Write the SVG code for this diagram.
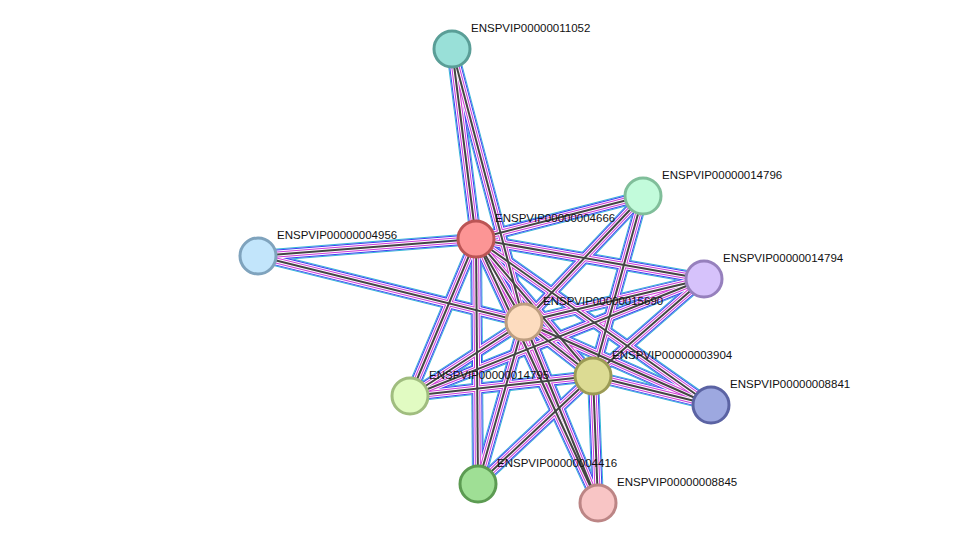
<svg xmlns="http://www.w3.org/2000/svg" xmlns:xlink="http://www.w3.org/1999/xlink" width="975" height="549" viewBox="0 0 975 549">
<style>
.e{fill:none}
.l1{stroke:#3f3ff0;stroke-width:10}
.l2{stroke:#fff;stroke-width:8}
.l3{stroke:#d03cd8;stroke-width:6}
.l4{stroke:#fff;stroke-width:4}
.l5{stroke:#444;stroke-width:2}
.l0{stroke:#35b8d8;stroke-width:12}
.n{stroke-width:3}
text{font-family:"Liberation Sans",Arial,sans-serif;font-size:11.5px;fill:#111}
</style>
<defs>
<path id="a1" d="M476,239L452,49"/>
<path id="a2" d="M476,239L643,196"/>
<path id="a3" d="M476,239L258,256"/>
<path id="a4" d="M476,239L704,279"/>
<path id="a5" d="M476,239L524,322"/>
<path id="a6" d="M476,239L593,376"/>
<path id="a7" d="M476,239L410,396"/>
<path id="a8" d="M476,239L711,405"/>
<path id="a9" d="M476,239L478,484"/>
<path id="a10" d="M476,239L598,503"/>
<path id="b1" d="M524,322L452,49"/>
<path id="b2" d="M524,322L643,196"/>
<path id="b3" d="M524,322L258,256"/>
<path id="b4" d="M524,322L704,279"/>
<path id="b5" d="M524,322L593,376"/>
<path id="b6" d="M524,322L410,396"/>
<path id="b7" d="M524,322L711,405"/>
<path id="b8" d="M524,322L478,484"/>
<path id="b9" d="M524,322L598,503"/>
<path id="c1" d="M593,376L643,196"/>
<path id="c2" d="M593,376L704,279"/>
<path id="c3" d="M593,376L410,396"/>
<path id="c4" d="M593,376L711,405"/>
<path id="c5" d="M593,376L478,484"/>
<path id="c6" d="M593,376L598,503"/>
<path id="c7" d="M704,279L410,396"/>
</defs>
<g id="connectors" class="e">
<g class="l0"><use href="#a1"/><use href="#a2"/><use href="#a3"/><use href="#a4"/><use href="#a5"/><use href="#a6"/><use href="#a7"/><use href="#a8"/><use href="#a9"/><use href="#a10"/><use href="#b1"/><use href="#b2"/><use href="#b3"/><use href="#b4"/><use href="#b5"/><use href="#b6"/><use href="#b7"/><use href="#b8"/><use href="#b9"/><use href="#c1"/><use href="#c2"/><use href="#c3"/><use href="#c4"/><use href="#c5"/><use href="#c6"/><use href="#c7"/></g>
<g class="l2" style="stroke-width:10"><use href="#a1"/><use href="#a2"/><use href="#a3"/><use href="#a4"/><use href="#a5"/><use href="#a6"/><use href="#a7"/><use href="#a8"/><use href="#a9"/><use href="#a10"/><use href="#b1"/><use href="#b2"/><use href="#b3"/><use href="#b4"/><use href="#b5"/><use href="#b6"/><use href="#b7"/><use href="#b8"/><use href="#b9"/><use href="#c1"/><use href="#c2"/><use href="#c3"/><use href="#c4"/><use href="#c5"/><use href="#c6"/><use href="#c7"/></g>
<g class="l1"><use href="#a1"/><use href="#a2"/><use href="#a3"/><use href="#a4"/><use href="#a5"/><use href="#a6"/><use href="#a7"/><use href="#a8"/><use href="#a9"/><use href="#a10"/><use href="#b1"/><use href="#b2"/><use href="#b3"/><use href="#b4"/><use href="#b5"/><use href="#b6"/><use href="#b7"/><use href="#b8"/><use href="#b9"/><use href="#c1"/><use href="#c2"/><use href="#c3"/><use href="#c4"/><use href="#c5"/><use href="#c6"/><use href="#c7"/></g>
<g class="l2"><use href="#a1"/><use href="#a2"/><use href="#a3"/><use href="#a4"/><use href="#a5"/><use href="#a6"/><use href="#a7"/><use href="#a8"/><use href="#a9"/><use href="#a10"/><use href="#b1"/><use href="#b2"/><use href="#b3"/><use href="#b4"/><use href="#b5"/><use href="#b6"/><use href="#b7"/><use href="#b8"/><use href="#b9"/><use href="#c1"/><use href="#c2"/><use href="#c3"/><use href="#c4"/><use href="#c5"/><use href="#c6"/><use href="#c7"/></g>
<g class="l3"><use href="#a1"/><use href="#a2"/><use href="#a3"/><use href="#a4"/><use href="#a5"/><use href="#a6"/><use href="#a7"/><use href="#a8"/><use href="#a9"/><use href="#a10"/><use href="#b1"/><use href="#b2"/><use href="#b3"/><use href="#b4"/><use href="#b5"/><use href="#b6"/><use href="#b7"/><use href="#b8"/><use href="#b9"/><use href="#c1"/><use href="#c2"/><use href="#c3"/><use href="#c4"/><use href="#c5"/><use href="#c6"/><use href="#c7"/></g>
<g class="l4"><use href="#a1"/><use href="#a2"/><use href="#a3"/><use href="#a4"/><use href="#a5"/><use href="#a6"/><use href="#a7"/><use href="#a8"/><use href="#a9"/><use href="#a10"/><use href="#b1"/><use href="#b2"/><use href="#b3"/><use href="#b4"/><use href="#b5"/><use href="#b6"/><use href="#b7"/><use href="#b8"/><use href="#b9"/><use href="#c1"/><use href="#c2"/><use href="#c3"/><use href="#c4"/><use href="#c5"/><use href="#c6"/><use href="#c7"/></g>
<g class="l5"><use href="#a1"/><use href="#a2"/><use href="#a3"/><use href="#a4"/><use href="#a5"/><use href="#a6"/><use href="#a7"/><use href="#a8"/><use href="#a9"/><use href="#a10"/><use href="#b1"/><use href="#b2"/><use href="#b3"/><use href="#b4"/><use href="#b5"/><use href="#b6"/><use href="#b7"/><use href="#b8"/><use href="#b9"/><use href="#c1"/><use href="#c2"/><use href="#c3"/><use href="#c4"/><use href="#c5"/><use href="#c6"/><use href="#c7"/></g>
</g>
<g id="n11052"><circle class="n" cx="452" cy="49" r="18" fill="#99e0d8" stroke="#5a9e97"/><text x="471" y="32">ENSPVIP00000011052</text></g>
<g id="n14796"><circle class="n" cx="643" cy="196" r="18" fill="#c2fbdb" stroke="#80be9a"/><text x="662" y="179">ENSPVIP00000014796</text></g>
<g id="n4956"><circle class="n" cx="258" cy="256" r="18" fill="#c2e5fb" stroke="#7fa3bd"/><text x="277" y="239">ENSPVIP00000004956</text></g>
<g id="n14794"><circle class="n" cx="704" cy="279" r="18" fill="#d6c2fb" stroke="#9680bd"/><text x="723" y="262">ENSPVIP00000014794</text></g>
<g id="n8841"><circle class="n" cx="711" cy="405" r="18" fill="#9da8e0" stroke="#5b63a3"/><text x="730" y="388">ENSPVIP00000008841</text></g>
<g id="n4416"><circle class="n" cx="478" cy="484" r="18" fill="#9fdf95" stroke="#5c9b52"/><text x="497" y="467">ENSPVIP00000004416</text></g>
<g id="n8845"><circle class="n" cx="598" cy="503" r="18" fill="#f8c5c5" stroke="#bc8585"/><text x="617" y="486">ENSPVIP00000008845</text></g>
<g id="n14795"><circle class="n" cx="410" cy="396" r="18" fill="#e1fbc2" stroke="#a0bd7f"/><text x="429" y="379">ENSPVIP00000014795</text></g>
<g id="n3904"><circle class="n" cx="593" cy="376" r="18" fill="#dcdb93" stroke="#9c9b55"/><text x="612" y="359">ENSPVIP00000003904</text></g>
<g id="n15690"><circle class="n" cx="524" cy="322" r="18" fill="#fddcbf" stroke="#bd9e80"/><text x="543" y="305">ENSPVIP00000015690</text></g>
<g id="n4666"><circle class="n" cx="476" cy="239" r="18" fill="#fc9595" stroke="#bb5555"/><text x="495" y="222">ENSPVIP00000004666</text></g>
</svg>
